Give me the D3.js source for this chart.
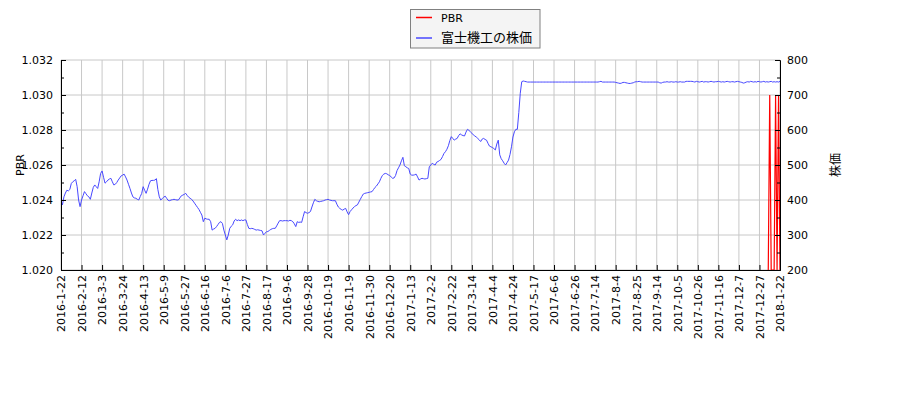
<!DOCTYPE html>
<html><head><meta charset="utf-8">
<script src="https://cdn.jsdelivr.net/npm/d3@7"></script>
<style>
html,body{margin:0;padding:0;background:#fff;}
svg text{font-family:"DejaVu Sans",sans-serif;}
</style></head>
<body><svg id="c" width="900" height="400"></svg>
<script>
const tickLabels = ["2016-1-22","2016-2-12","2016-3-3","2016-3-24","2016-4-13","2016-5-9","2016-5-27","2016-6-16","2016-7-6","2016-7-27","2016-8-17","2016-9-6","2016-9-28","2016-10-19","2016-11-9","2016-11-30","2016-12-20","2017-1-13","2017-2-2","2017-2-22","2017-3-14","2017-4-4","2017-4-24","2017-5-17","2017-6-6","2017-6-26","2017-7-14","2017-8-4","2017-8-25","2017-9-14","2017-10-5","2017-10-26","2017-11-16","2017-12-7","2017-12-27","2018-1-22"];
const tickStep = 14;
const seriesNames = ["PBR","富士機工の株価"];
const price = [
398,386,409,420,428,426,430,447,452,455,459,438,400,381,400,412,424,418,412,409,
402,420,436,443,438,433,452,476,483,465,448,452,457,460,462,452,443,445,450,457,
463,469,471,474,466,457,445,433,420,409,406,405,402,400,410,419,438,428,419,431,
445,455,456,456,457,461,430,409,400,404,408,411,405,399,398,400,401,402,401,400,
400,406,412,414,416,419,413,408,405,402,397,391,385,379,373,365,357,338,348,346,
345,345,338,314,317,319,324,330,336,338,333,314,300,286,300,319,325,329,340,345,
341,343,341,343,341,343,343,330,319,318,319,318,316,314,315,314,313,312,300,305,
309,310,313,316,318,319,319,326,334,341,341,340,341,341,341,340,342,341,338,332,
324,338,336,337,336,352,367,364,362,364,367,380,392,402,398,396,395,396,397,398,
400,401,402,400,399,398,398,398,388,380,376,373,371,374,376,366,358,367,372,377,
381,384,386,394,402,410,417,419,420,421,422,423,424,430,436,440,446,452,462,470,
474,476,475,472,470,466,462,463,470,484,492,500,512,522,498,495,492,490,474,471,
471,472,474,466,457,460,462,461,460,461,462,495,500,505,502,500,508,510,513,516,
524,533,538,545,555,570,581,576,571,574,576,584,589,586,584,583,594,602,599,595,
591,586,583,580,576,572,567,574,576,573,571,562,554,552,550,547,543,560,571,529,
518,512,505,500,507,514,530,552,580,595,602,602,650,705,738,740,739,738,737,737,
737,737,737,737,737,737,737,737,737,737,737,737,737,737,737,737,737,737,737,737,
737,737,737,737,737,737,737,737,737,737,737,737,737,737,737,737,737,737,737,737,
737,737,737,737,737,737,737,738,739,737,737,737,737,737,737,737,737,737,736,735,
734,733,734,736,736,735,734,733,733,734,735,737,738,738,739,738,737,737,737,737,
737,737,737,737,737,737,737,737,735,734,736,737,737,738,737,737,738,737,737,738,
737,737,738,737,737,737,739,739,739,739,739,738,737,739,738,737,738,739,737,738,
738,737,738,739,738,737,738,738,739,738,737,738,737,738,739,738,737,738,738,737,
738,739,738,737,736,734,735,737,738,737,739,738,737,738,737,739,738,737,738,739,
737,738,737,738,739,737,738,737,738,737,739
];
const pbrStartIndex = 482;
const pbrTail = [1.02,1.03,1.02,1.02,1.02,1.03,1.02,1.03,1.02];
const pbrTicks = [1.020,1.022,1.024,1.026,1.028,1.030,1.032];
const priceTicks = [200,300,400,500,600,700,800];

const svg = d3.select("#c");
const L = 61, R = 780, T = 60, B = 270;
const n = price.length;
const x = d3.scaleLinear().domain([0, n - 1]).range([L, R]);
const yL = d3.scaleLinear().domain([1.020, 1.032]).range([B, T]);
const yR = d3.scaleLinear().domain([200, 800]).range([B, T]);

const xTickVals = tickLabels.map((d, k) => k * tickStep);

// grid
const g = svg.append("g");
g.selectAll("line.vx").data(xTickVals).enter().append("line")
  .attr("x1", d => x(d)).attr("x2", d => x(d)).attr("y1", T).attr("y2", B)
  .attr("stroke", "#c8c8c8").attr("stroke-width", 1);
g.selectAll("line.hy").data(pbrTicks).enter().append("line")
  .attr("x1", L).attr("x2", R).attr("y1", d => yL(d)).attr("y2", d => yL(d))
  .attr("stroke", "#c8c8c8").attr("stroke-width", 1);

// clip
svg.append("clipPath").attr("id", "clip").append("rect")
  .attr("x", L).attr("y", T).attr("width", R - L).attr("height", B - T);

// price line
const priceLine = d3.line().x((d, i) => x(i)).y(d => yR(d));
svg.append("path").datum(price).attr("d", priceLine)
  .attr("fill", "none").attr("stroke", "#4848ff").attr("stroke-width", 1)
  .attr("clip-path", "url(#clip)");

// pbr line
const pbrLine = d3.line().x((d, i) => x(pbrStartIndex + i)).y(d => yL(d));
svg.append("path").datum(pbrTail).attr("d", pbrLine)
  .attr("fill", "none").attr("stroke", "#ff0000").attr("stroke-width", 1.2)
  .attr("clip-path", "url(#clip)");

// axes
const fontSize = "11px";
const axB = d3.axisBottom(x).tickValues(xTickVals).tickFormat((d, k) => tickLabels[k]).tickSize(-5).tickPadding(5);
const gB = svg.append("g").attr("transform", `translate(0,${B})`).call(axB);
gB.selectAll("text").attr("transform", "rotate(-90)").attr("text-anchor", "end")
  .attr("x", -5).attr("y", 0).attr("dy", "0.35em").style("font-size", fontSize);

const axLft = d3.axisLeft(yL).tickValues(pbrTicks).tickFormat(d3.format(".3f")).tickSize(-5).tickPadding(8);
const gLft = svg.append("g").attr("transform", `translate(${L},0)`).call(axLft);
gLft.selectAll("text").style("font-size", fontSize);
const minorL = d3.range(0, 12).map(k => 1.021 + k * 0.002).filter(v => v < 1.032);
svg.append("g").attr("transform", `translate(${L},0)`).call(d3.axisLeft(yL).tickValues(minorL).tickFormat("").tickSize(-3)).select(".domain").remove();

const axRgt = d3.axisRight(yR).tickValues(priceTicks).tickSize(-5).tickPadding(7);
const gRgt = svg.append("g").attr("transform", `translate(${R},0)`).call(axRgt);
gRgt.selectAll("text").style("font-size", fontSize);
const minorR = d3.range(250, 800, 100);
svg.append("g").attr("transform", `translate(${R},0)`).call(d3.axisRight(yR).tickValues(minorR).tickFormat("").tickSize(-3)).select(".domain").remove();

svg.selectAll(".domain").attr("stroke", "#000");
svg.selectAll(".tick line").attr("stroke", "#000");
svg.selectAll(".tick text").attr("fill", "#000");

// axis labels
svg.append("text").attr("transform", "translate(24,165) rotate(-90)").attr("text-anchor", "middle")
  .style("font-size", "11px").text("PBR");
svg.append("text").attr("transform", "translate(840,165) rotate(-90)").attr("text-anchor", "middle")
  .style("font-size", "12px").style("font-family", "'Noto Sans CJK JP',sans-serif").text("株価");

// legend
const lg = svg.append("g");
lg.append("rect").attr("x", 410.5).attr("y", 9.5).attr("width", 129.5).attr("height", 38.5)
  .attr("fill", "#f4f4f4").attr("stroke", "#808080").attr("stroke-width", 1);
lg.append("line").attr("x1", 416).attr("x2", 432).attr("y1", 17.5).attr("y2", 17.5).attr("stroke", "#ff0000").attr("stroke-width", 1.5);
lg.append("line").attr("x1", 416).attr("x2", 432).attr("y1", 38).attr("y2", 38).attr("stroke", "#4848ff").attr("stroke-width", 1.5);
lg.append("text").attr("x", 441).attr("y", 21.8).style("font-size", "11px").text(seriesNames[0]);
lg.append("text").attr("x", 441).attr("y", 42).style("font-size", "13px").style("font-family", "'Noto Sans CJK JP',sans-serif").text(seriesNames[1]);
</script></body></html>
